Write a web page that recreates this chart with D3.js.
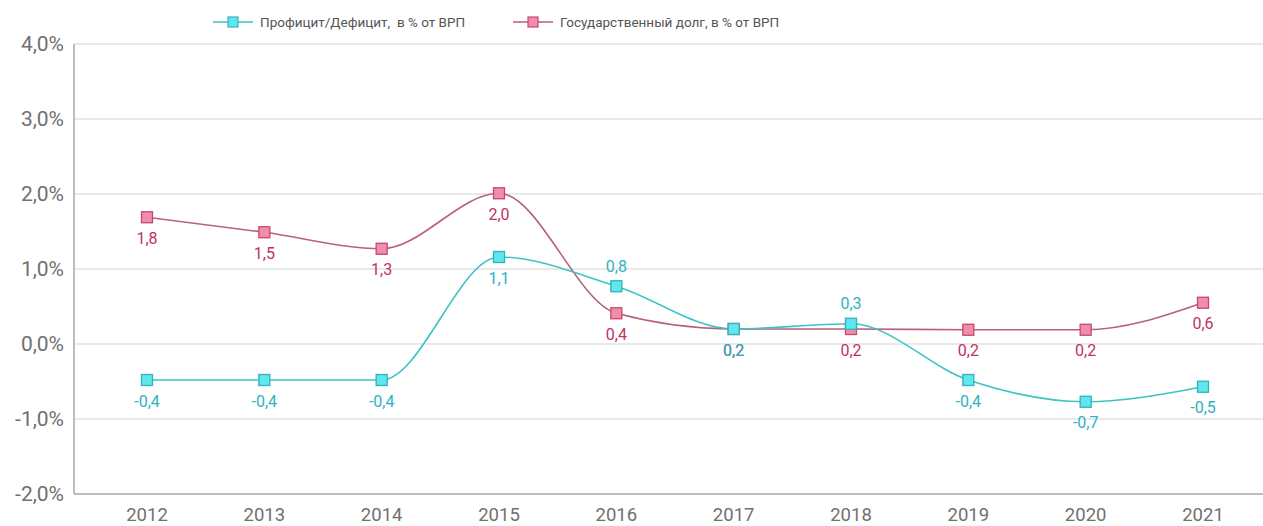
<!DOCTYPE html>
<html><head><meta charset="utf-8">
<script src="https://cdn.jsdelivr.net/npm/d3@7"></script>
<style>body{margin:0;background:#fff;}svg{display:block;font-family:Roboto,"Noto Sans",sans-serif;}</style>
</head><body>
<svg id="c" width="1263" height="526"></svg>
<script>
const years = ["2012","2013","2014","2015","2016","2017","2018","2019","2020","2021"];
const deficitValues = [-0.48,-0.48,-0.48,1.16,0.77,0.2,0.27,-0.48,-0.77,-0.57];
const deficitLabels = ["-0,4","-0,4","-0,4","1,1","0,8","0,2","0,3","-0,4","-0,7","-0,5"];
const deficitLabelAbove = [false,false,false,false,true,false,true,false,false,false];
const debtValues = [1.69,1.49,1.27,2.01,0.41,0.2,0.2,0.19,0.19,0.55];
const debtLabels = ["1,8","1,5","1,3","2,0","0,4","0,2","0,2","0,2","0,2","0,6"];
const yTicks = [-2,-1,0,1,2,3,4];
const yTickLabels = ["-2,0%","-1,0%","0,0%","1,0%","2,0%","3,0%","4,0%"];
const seriesNames = ["Профицит/Дефицит,  в % от ВРП","Государственный долг, в % от ВРП"];

(function(){
const svg = d3.select("#c");
const mLeft = 74, mRight = 1263, mTop = 44, mBottom = 494;
const x = d3.scalePoint().domain(years).range([147,1203]);
const y = d3.scaleLinear().domain([-2,4]).range([mBottom, mTop]);

// grid
svg.append("g").selectAll("line").data(yTicks).join("line")
  .attr("x1", mLeft).attr("x2", mRight)
  .attr("y1", d=>y(d)).attr("y2", d=>y(d))
  .attr("stroke", d=> d===-2 ? "#a8a8a8" : "#d4d4d4").attr("stroke-width", d=> d===-2?1.5:1.2);
svg.append("line").attr("x1",mLeft).attr("x2",mLeft).attr("y1",mTop).attr("y2",mBottom)
  .attr("stroke","#a8a8a8").attr("stroke-width",1.5);

// y labels
svg.append("g").selectAll("text").data(yTicks).join("text")
  .attr("x", 64).attr("y", d=>y(d)).attr("dy","0.35em").attr("text-anchor","end")
  .attr("fill","#707070").attr("font-size",21).text((d,i)=>yTickLabels[i]);
// x labels
svg.append("g").selectAll("text").data(years).join("text")
  .attr("x", d=>x(d)).attr("y", 521).attr("text-anchor","middle")
  .attr("fill","#707070").attr("font-size",18.5).text(d=>d);

const line = d3.line().curve(d3.curveMonotoneX).x((d,i)=>x(years[i])).y(d=>y(d));
const series = [
  {vals: debtValues, labels: debtLabels, above: years.map(()=>false), line:"#b8607e", fill:"#f28cab", stroke:"#c4496f", text:"#c0325f"},
  {vals: deficitValues, labels: deficitLabels, above: deficitLabelAbove, line:"#3cc3c6", fill:"#62e6ee", stroke:"#2fb3bd", text:"#2eb2c2"}
];
series.forEach(s=>{
  svg.append("path").attr("d", line(s.vals)).attr("fill","none").attr("stroke", s.line).attr("stroke-width",1.6);
});
const ms = 11;
series.forEach(s=>{
  svg.append("g").selectAll("rect").data(s.vals).join("rect")
    .attr("x",(d,i)=>x(years[i])-ms/2).attr("y",d=>y(d)-ms/2).attr("width",ms).attr("height",ms)
    .attr("fill", s.fill).attr("stroke", s.stroke).attr("stroke-width",1.3);
  svg.append("g").selectAll("text").data(s.vals).join("text")
    .attr("x",(d,i)=>x(years[i])).attr("y",(d,i)=> s.above[i] ? y(d)-20 : y(d)+21)
    .attr("dy","0.35em").attr("text-anchor","middle").attr("font-size",16)
    .attr("fill", s.text).text((d,i)=>s.labels[i]);
});

// legend
const legend = [
  {x:213, name: seriesNames[0], line:"#3cc3c6", fill:"#62e6ee", stroke:"#2fb3bd"},
  {x:513, name: seriesNames[1], line:"#b8607e", fill:"#f28cab", stroke:"#c4496f"}
];
legend.forEach(l=>{
  const g = svg.append("g");
  g.append("line").attr("x1",l.x).attr("x2",l.x+40).attr("y1",22).attr("y2",22).attr("stroke",l.line).attr("stroke-width",1.6);
  g.append("rect").attr("x",l.x+20-5).attr("y",17).attr("width",10).attr("height",10).attr("fill",l.fill).attr("stroke",l.stroke).attr("stroke-width",1.2);
  g.append("text").attr("x",l.x+47).attr("y",22).attr("dy","0.35em").attr("font-size",13.5).attr("fill","#555").style("white-space","pre").text(l.name);
});
})();
</script>
</body></html>
